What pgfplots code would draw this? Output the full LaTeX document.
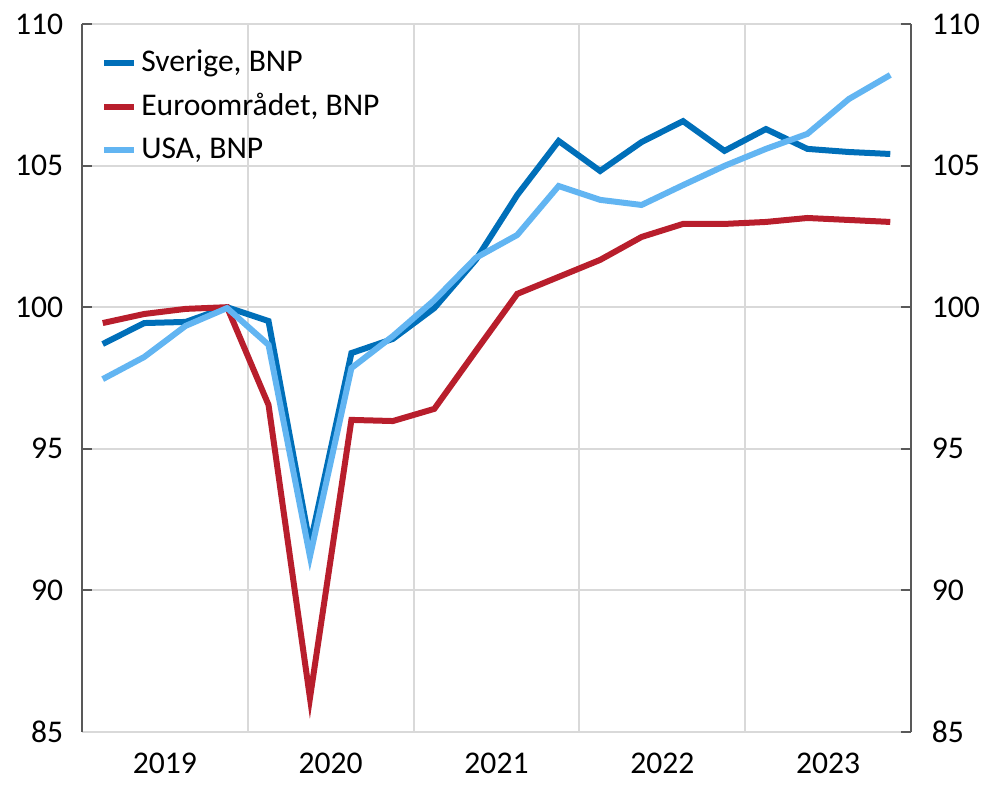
\documentclass[border=0pt]{standalone}
\usepackage{pgfplots}
\pgfplotsset{compat=1.18}
\usepackage{fontspec}
\setmainfont{Carlito}
\definecolor{sweblue}{HTML}{006FB9}
\definecolor{eured}{HTML}{B81E2C}
\definecolor{usablue}{HTML}{62B5F2}
\definecolor{gridgray}{HTML}{D9D9D9}
\definecolor{axgray}{HTML}{595959}
\begin{document}
\fontsize{15.8}{19}\selectfont
\begin{tikzpicture}
% picture frame: 1 px of the reference = 0.5pt
\path[use as bounding box] (-41pt,-27pt) rectangle (452pt,366pt);
\pgfplotsset{
  common/.style={
    width=414.5pt, height=354pt, scale only axis,
    at={(0,0)}, anchor=south west,
    xmin=0, xmax=20, ymin=85, ymax=110,
    ytick={85,90,...,110},
    /pgf/number format/assume math mode=true,
    tick label style={font=\fontsize{15.8}{19}\selectfont},
    every outer x axis line/.append style={-},
    every outer y axis line/.append style={-},
  },
}
\begin{axis}[
    common,
    axis x line=bottom,
    axis y line=left,
    x axis line style={-, draw=gridgray, line width=1pt},
    y axis line style={-, draw=axgray, line width=1pt},
    xtick={2,6,10,14,18},
    xticklabels={2019,2020,2021,2022,2023},
    minor xtick={4,8,12,16},
    xminorgrids=true,
    ymajorgrids=true,
    grid style={draw=gridgray, line width=1pt},
    minor grid style={draw=gridgray, line width=1pt},
    x tick style={draw=none},
    y tick style={draw=axgray, line width=1pt},
    tick align=inside,
    major tick length=5pt,
    xticklabel style={yshift=-5pt},
    yticklabel style={xshift=-4pt},
    legend style={draw=none, fill=none, at={(0.0155,0.975)}, anchor=north west,
      font=\fontsize{15.8}{19}\selectfont, row sep=4.5pt,
      legend cell align=left},
    legend image code/.code={\draw[#1, line width=3pt] (0pt,0pt) -- (15pt,0pt);},
    every axis plot/.append style={line width=3pt, line join=miter},
]
\addplot[color=sweblue] coordinates {
 (0.5,98.70) (1.5,99.44) (2.5,99.48) (3.5,100.0)
 (4.5,99.51) (5.5,91.6) (6.5,98.38) (7.5,98.88)
 (8.5,99.97) (9.5,101.67) (10.5,103.96) (11.5,105.87)
 (12.5,104.81) (13.5,105.83) (14.5,106.57) (15.5,105.52)
 (16.5,106.29) (17.5,105.59) (18.5,105.48) (19.5,105.41)
};
\addlegendentry{Sverige, BNP}
\addplot[color=eured] coordinates {
 (0.5,99.44) (1.5,99.76) (2.5,99.94) (3.5,100.0)
 (4.5,96.55) (5.5,86.2) (6.5,96.02) (7.5,95.98)
 (8.5,96.41) (9.5,98.45) (10.5,100.47) (11.5,101.07)
 (12.5,101.67) (13.5,102.48) (14.5,102.94) (15.5,102.94)
 (16.5,103.01) (17.5,103.15) (18.5,103.08) (19.5,103.01)
};
\addlegendentry{Euroområdet, BNP}
\addplot[color=usablue] coordinates {
 (0.5,97.46) (1.5,98.24) (2.5,99.34) (3.5,99.97)
 (4.5,98.67) (5.5,91.2) (6.5,97.85) (7.5,98.98)
 (8.5,100.25) (9.5,101.74) (10.5,102.55) (11.5,104.28)
 (12.5,103.79) (13.5,103.61) (14.5,104.31) (15.5,104.99)
 (16.5,105.59) (17.5,106.12) (18.5,107.35) (19.5,108.2)
};
\addlegendentry{USA, BNP}
\end{axis}
\begin{axis}[
    common,
    axis x line=none,
    axis y line=right,
    y axis line style={-, draw=axgray, line width=1pt},
    y tick style={draw=axgray, line width=1pt},
    tick align=inside,
    major tick length=5pt,
    yticklabel style={xshift=5pt},
]
\end{axis}
\end{tikzpicture}
\end{document}
